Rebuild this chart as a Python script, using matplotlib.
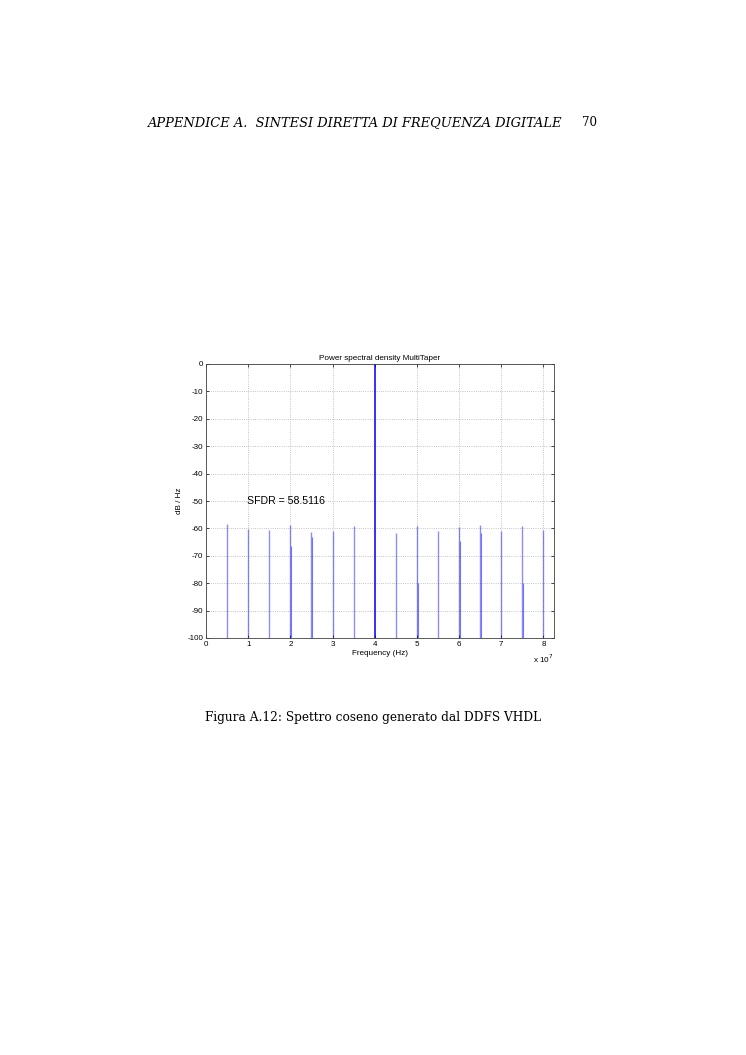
import numpy as np
import matplotlib.pyplot as plt
from matplotlib.ticker import FuncFormatter

plt.rcParams['axes.unicode_minus'] = False

# spur frequencies [Hz] and their peak level [dB/Hz]
freqs = [0.5e7, 1.0e7, 1.5e7, 2.0e7, 2.5e7, 3.0e7, 3.5e7, 4.0e7,
         4.5e7, 5.0e7, 5.5e7, 6.0e7, 6.5e7, 7.0e7, 7.5e7, 8.0e7]
peaks = [-58.5, -60.2, -60.5, -58.9, -61.2, -61.0, -59.3, 0.0,
         -61.5, -59.0, -60.9, -59.5, -58.7, -60.9, -59.3, -60.7]

# neighbouring bins that overlap some spurs (drawn darker)
freqs_2 = [2.0e7, 2.5e7, 5.0e7, 6.0e7, 6.5e7, 7.5e7]
peaks_2 = [-66.6, -63.3, -80.0, -64.7, -61.7, -80.0]

SFDR = 58.5116
FLOOR = -100

fig = plt.figure(figsize=(7.46, 10.55), dpi=100)

# page header and caption (the chart sits in a thesis page)
fig.text(148 / 746, 1 - 123 / 1055,
         'APPENDICE A.  SINTESI DIRETTA DI FREQUENZA DIGITALE',
         family='DejaVu Serif', style='italic', fontsize=9.4,
         va='center', ha='left')
fig.text(597 / 746, 1 - 123 / 1055, '70', family='DejaVu Serif',
         fontsize=8.6, va='center', ha='right')
fig.text(373 / 746, 1 - 718 / 1055,
         'Figura A.12: Spettro coseno generato dal DDFS VHDL',
         family='DejaVu Serif', fontsize=8.7, va='center', ha='center')

ax = fig.add_axes([206 / 746, 1 - 638 / 1055, 348 / 746, 274 / 1055])

for f, p in zip(freqs, peaks):
    if p == 0.0:
        ax.vlines(f, FLOOR, p, color='#0000ff', lw=1.1)
    else:
        ax.vlines(f, FLOOR, p, color='#0000ff', lw=1.0, alpha=0.45)
for f, p in zip(freqs_2, peaks_2):
    ax.vlines(f + 0.02e7, FLOOR, p, color='#0000ff', lw=0.8, alpha=0.5)

ax.set_xlim(0, 8.25e7)
ax.set_ylim(FLOOR, 0)
ax.set_xticks(np.arange(0, 9) * 1e7)
ax.set_yticks(np.arange(-100, 1, 10))
ax.xaxis.set_major_formatter(FuncFormatter(lambda v, pos: '%d' % round(v / 1e7)))

ax.grid(True, linestyle=':', color='#b0b0b0', lw=0.6)
ax.tick_params(direction='in', length=2.5, width=0.5, labelsize=5.8,
               top=True, right=True, pad=2)
for s in ax.spines.values():
    s.set_linewidth(0.6)
    s.set_color('#404040')

ax.set_title('Power spectral density MultiTaper', fontsize=5.9,
             family='Liberation Sans', pad=3)
ax.set_xlabel('Frequency (Hz)', fontsize=5.9, family='Liberation Sans', labelpad=1.5)
ax.set_ylabel('dB / Hz', fontsize=5.9, family='Liberation Sans', labelpad=3)
for lab in ax.get_xticklabels() + ax.get_yticklabels():
    lab.set_family('Liberation Sans')

ax.text(0.98e7, -50, 'SFDR = %.4f' % SFDR, fontsize=7.6,
        family='Liberation Sans', va='center', ha='left')
ax.text(1.0, -0.075, 'x 10$^7$', transform=ax.transAxes, fontsize=5.9,
        family='Liberation Sans', ha='right', va='center')

plt.savefig('out.png', dpi=100)
